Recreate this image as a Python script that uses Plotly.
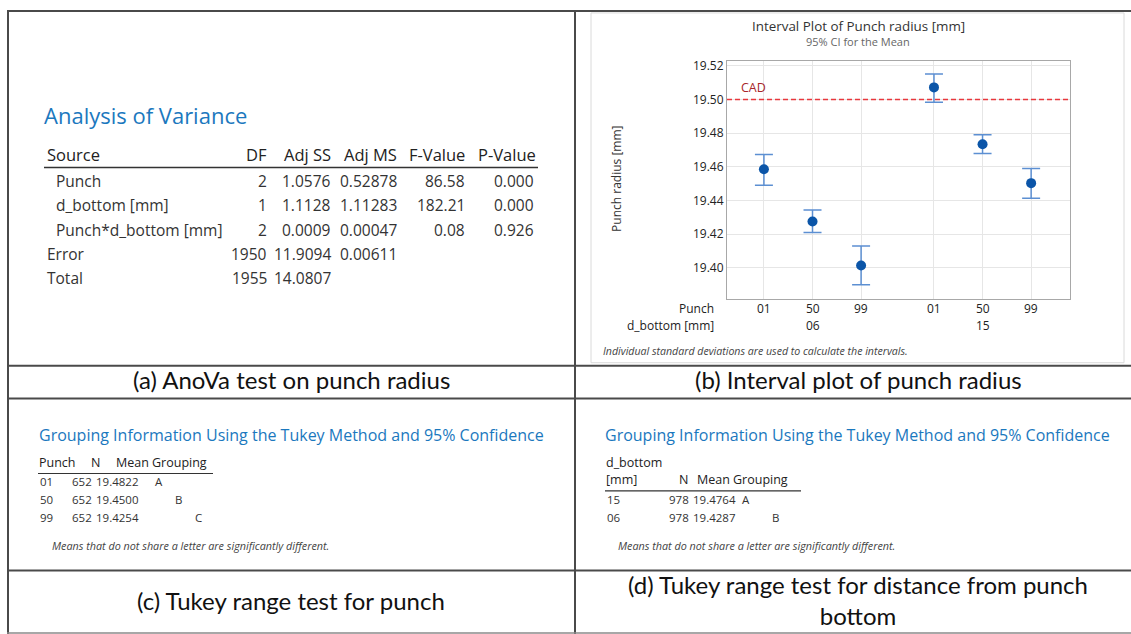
import plotly.graph_objects as go

W, H = 1131, 634
SEG = "Open Sans"
CAL = "Lato"

# ---------------- data ----------------
anova_headers = ["Source", "DF", "Adj SS", "Adj MS", "F-Value", "P-Value"]
anova_sources = ["Punch", "d_bottom [mm]", "Punch*d_bottom [mm]", "Error", "Total"]
anova_indent = [True, True, True, False, False]
anova_df = ["2", "1", "2", "1950", "1955"]
anova_adj_ss = ["1.0576", "1.1128", "0.0009", "11.9094", "14.0807"]
anova_adj_ms = ["0.52878", "1.11283", "0.00047", "0.00611", ""]
anova_f = ["86.58", "182.21", "0.08", "", ""]
anova_p = ["0.000", "0.000", "0.926", "", ""]

punch_levels = ["01", "50", "99", "01", "50", "99"]
dbottom_levels = ["06", "06", "06", "15", "15", "15"]
mean_radius = [19.4586, 19.4275, 19.4014, 19.5072, 19.4734, 19.4503]
ci_lower = [19.4491, 19.4210, 19.3899, 19.4984, 19.4680, 19.4414]
ci_upper = [19.4674, 19.4343, 19.4129, 19.5151, 19.4790, 19.4590]
cad_value = 19.50
y_ticks = [19.40, 19.42, 19.44, 19.46, 19.48, 19.50, 19.52]

tukey_punch = ["01", "50", "99"]
tukey_punch_n = ["652", "652", "652"]
tukey_punch_mean = ["19.4822", "19.4500", "19.4254"]
tukey_punch_group = ["A", "B", "C"]

tukey_db = ["15", "06"]
tukey_db_n = ["978", "978"]
tukey_db_mean = ["19.4764", "19.4287"]
tukey_db_group = ["A", "B"]

captions = ["(a) AnoVa test on punch radius", "(b) Interval plot of punch radius",
            "(c) Tukey range test for punch",
            "(d) Tukey range test for distance from punch<br>bottom"]

# ---------------- helpers ----------------
TEXT_DY = -3  # vertical correction for text boxes (font metrics)


def px(x):
    return x / W


def py(y):
    return 1 - y / H


annotations = []
shapes = []


def txt(x, y, s, size, color="#333333", anchor="left", family=SEG):
    annotations.append(dict(
        x=px(x), y=py(y + TEXT_DY), xref="paper", yref="paper", text=s, showarrow=False,
        xanchor=anchor, yanchor="middle", borderpad=0,
        font=dict(family=family, size=size, color=color)))


def hline(x0, x1, y, color, width):
    shapes.append(dict(type="line", xref="paper", yref="paper",
                       x0=px(x0), x1=px(x1), y0=py(y), y1=py(y),
                       line=dict(color=color, width=width)))


def vline(x, y0, y1, color, width):
    shapes.append(dict(type="line", xref="paper", yref="paper",
                       x0=px(x), x1=px(x), y0=py(y0), y1=py(y1),
                       line=dict(color=color, width=width)))


# ---------------- interval plot ----------------
groups = list(dict.fromkeys(dbottom_levels))
n_per = len(punch_levels) // len(groups)
xpos = []
for i, (p, d) in enumerate(zip(punch_levels, dbottom_levels)):
    g = groups.index(d)
    xpos.append((i - g * n_per) + g * (n_per + 0.5))

fig = go.Figure()
fig.add_trace(go.Scatter(
    x=xpos, y=mean_radius, mode="markers",
    marker=dict(color="#0B55A8", size=10),
    error_y=dict(type="data", symmetric=False,
                 array=[u - m for u, m in zip(ci_upper, mean_radius)],
                 arrayminus=[m - l for m, l in zip(mean_radius, ci_lower)],
                 color="#5C8FD2", thickness=1.5, width=9),
    showlegend=False, hoverinfo="skip"))

# panel frame of the interval plot
shapes.append(dict(type="rect", xref="paper", yref="paper",
                   x0=px(591), x1=px(1124), y0=py(361), y1=py(9),
                   line=dict(color="#DADADA", width=1), layer="below"))

# CAD line
shapes.append(dict(type="line", xref="x domain", yref="y", x0=0, x1=1,
                   y0=cad_value, y1=cad_value, layer="above",
                   line=dict(color="#E8383D", width=1.5, dash="5px,3px")))
annotations.append(dict(x=px(739), y=cad_value, xref="paper", yref="y", text="CAD",
                        showarrow=False, xanchor="left", yanchor="bottom", yshift=2,
                        font=dict(family=SEG, size=12.5, color="#A8262B")))

txt(858, 25, "Interval Plot of Punch radius [mm]", 13.4, "#333333", "center")
txt(858, 41, "95% CI for the Mean", 11, "#666666", "center")
annotations.append(dict(x=px(617), y=py(176), xref="paper", yref="paper",
                        text="Punch radius [mm]", textangle=-90, showarrow=False,
                        xanchor="center", yanchor="middle",
                        font=dict(family=SEG, size=12, color="#333333")))
txt(715, 309, "Punch", 12, "#222222", "right")
txt(715, 327, "d_bottom [mm]", 12, "#222222", "right")
for xv, p in zip(xpos, punch_levels):
    annotations.append(dict(x=xv, y=py(309 + TEXT_DY), xref="x", yref="paper", text=p,
                            showarrow=False, yanchor="middle",
                            font=dict(family=SEG, size=12, color="#222222")))
for g in groups:
    xs = [xv for xv, d in zip(xpos, dbottom_levels) if d == g]
    annotations.append(dict(x=sum(xs) / len(xs), y=py(327 + TEXT_DY), xref="x", yref="paper",
                            text=g, showarrow=False, yanchor="middle",
                            font=dict(family=SEG, size=12, color="#222222")))
txt(602, 352, "<i>Individual standard deviations are used to calculate the intervals.</i>",
    10.6, "#444444")

# ---------------- (a) ANOVA table ----------------
txt(43, 115, "Analysis of Variance", 22, "#1B78BE")
hdr_right = [None, 268, 332, 398, 466, 537]
txt(46, 154, anova_headers[0], 16.5, "#222222")
for h, r in zip(anova_headers[1:], hdr_right[1:]):
    txt(r, 154, h, 16.5, "#222222", "right")
hline(44, 538, 164.5, "#333333", 1.5)
row_y = [181, 205.5, 230, 254.5, 279]
for i, src in enumerate(anova_sources):
    y = row_y[i]
    txt(55 if anova_indent[i] else 46, y, src, 15.5, "#333333")
    txt(268, y, anova_df[i], 15.5, "#333333", "right")
    txt(332, y, anova_adj_ss[i], 15.5, "#333333", "right")
    txt(398, y, anova_adj_ms[i], 15.5, "#333333", "right")
    txt(466, y, anova_f[i], 15.5, "#333333", "right")
    txt(535, y, anova_p[i], 15.5, "#333333", "right")

# ---------------- (c) Tukey punch ----------------
TITLE = "Grouping Information Using the Tukey Method and 95% Confidence"
txt(38, 437, TITLE, 16, "#1B78BE")
txt(38, 464, "Punch", 12.5, "#222222")
txt(101, 464, "N", 12.5, "#222222", "right")
txt(115, 464, "Mean", 12.5, "#222222")
txt(151, 464, "Grouping", 12.5, "#222222")
hline(38, 213, 472.5, "#333333", 1.2)
rows_c = [484, 502, 520]
letter_x_c = [154, 174, 194]
for i in range(len(tukey_punch)):
    y = rows_c[i]
    txt(39, y, tukey_punch[i], 11.5, "#333333")
    txt(93, y, tukey_punch_n[i], 11.5, "#333333", "right")
    txt(95, y, tukey_punch_mean[i], 11.5, "#333333")
    txt(letter_x_c[ord(tukey_punch_group[i]) - 65], y, tukey_punch_group[i], 11.5, "#333333")
txt(51, 548, "<i>Means that do not share a letter are significantly different.</i>",
    10.8, "#444444")

# ---------------- (d) Tukey d_bottom ----------------
txt(604, 437, TITLE, 16, "#1B78BE")
txt(605, 464, "d_bottom", 12.5, "#222222")
txt(605, 482, "[mm]", 12.5, "#222222")
txt(689, 482, "N", 12.5, "#222222", "right")
txt(696, 482, "Mean", 12.5, "#222222")
txt(732, 482, "Grouping", 12.5, "#222222")
hline(605, 801, 490, "#333333", 1.2)
rows_d = [502, 520]
letter_x_d = [741, 771]
for i in range(len(tukey_db)):
    y = rows_d[i]
    txt(606, y, tukey_db[i], 11.5, "#333333")
    txt(690, y, tukey_db_n[i], 11.5, "#333333", "right")
    txt(692, y, tukey_db_mean[i], 11.5, "#333333")
    txt(letter_x_d[ord(tukey_db_group[i]) - 65], y, tukey_db_group[i], 11.5, "#333333")
txt(617, 548, "<i>Means that do not share a letter are significantly different.</i>",
    10.8, "#444444")

# ---------------- captions ----------------
CAP = 24
txt(291, 381, captions[0], CAP, "#111111", "center", CAL)
txt(858, 381, captions[1], CAP, "#111111", "center", CAL)
txt(291, 603, captions[2], CAP, "#111111", "center", CAL)
annotations.append(dict(x=px(858), y=py(603 + TEXT_DY), xref="paper", yref="paper",
                        text=captions[3], showarrow=False, align="center",
                        xanchor="center", yanchor="middle",
                        font=dict(family=CAL, size=CAP, color="#111111")))

# ---------------- outer grid lines ----------------
GC, GW = "#4A4A4A", 2
hline(7, W, 7, GC, GW)
vline(8, 6, H, GC, GW)
vline(575, 6, H, GC, GW)
hline(7, W, 364, GC, GW)
hline(7, W, 397, GC, GW)
hline(7, W, 570, GC, GW)
hline(7, W, 633, "#8A8A8A", 1.5)

fig.update_layout(
    width=W, height=H, autosize=False,
    margin=dict(l=0, r=0, t=0, b=0, pad=0),
    paper_bgcolor="white", plot_bgcolor="white",
    showlegend=False,
    xaxis=dict(domain=[px(727), px(1070)], range=[-0.76, 6.3],
               tickvals=xpos, showticklabels=False, ticks="",
               showgrid=True, gridcolor="#E6E6E6", gridwidth=1,
               showline=True, linecolor="#A8A8A8", linewidth=1, mirror=True,
               zeroline=False, fixedrange=True),
    yaxis=dict(domain=[py(297), py(57)], range=[19.3814, 19.5231],
               tickvals=y_ticks, ticktext=[f"{v:.2f}" for v in y_ticks],
               ticks="", tickfont=dict(family=SEG, size=12, color="#222222"),
               showgrid=True, gridcolor="#E6E6E6", gridwidth=1,
               showline=True, linecolor="#A8A8A8", linewidth=1, mirror=True,
               zeroline=False, fixedrange=True),
    shapes=shapes, annotations=annotations,
)

fig.write_html("out.html")
